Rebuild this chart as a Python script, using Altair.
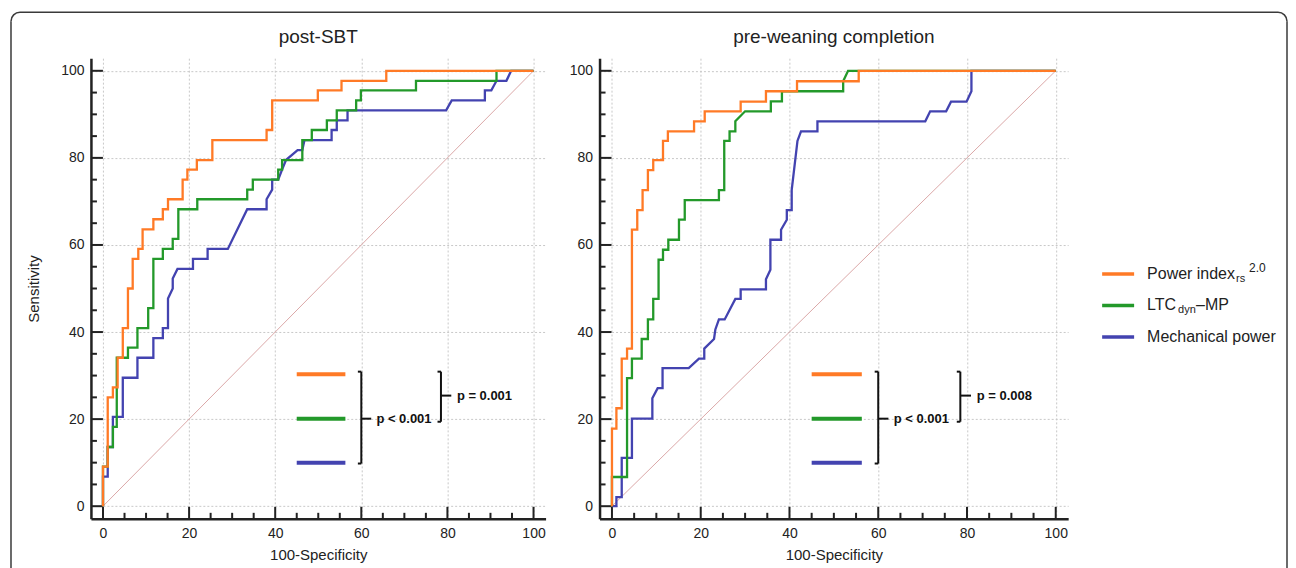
import math
import altair as alt
import pandas as pd

# ---------------- data (100-Specificity, Sensitivity) ----------------
# post-SBT
L_PI = [(0,0),(0,9.1),(1.1,9.1),(1.1,25),(2.3,25),(2.3,27.3),(3.4,27.3),(3.4,34.1),(4.6,34.1),(4.6,40.9),
        (5.8,40.9),(5.8,50),(6.9,50),(6.9,56.8),(8.2,56.8),(8.2,59.1),(9.2,59.1),(9.2,63.6),(11.7,63.6),
        (11.7,65.9),(13.9,65.9),(13.9,68.2),(15.1,68.2),(15.1,70.5),(18.5,70.5),(18.5,75),(19.6,75),
        (19.6,77.3),(21.8,77.3),(21.8,79.5),(25.4,79.5),(25.4,84.1),(38.0,84.1),(38.0,86.4),(39.3,86.4),
        (39.3,93.2),(49.9,93.2),(49.9,95.5),(55.4,95.5),(55.4,97.7),(65.8,97.7),(65.8,100),(100,100)]
L_LTC = [(0,0),(0,9.1),(1.1,9.1),(1.1,13.6),(2.3,13.6),(2.3,18.2),(3.2,18.2),(3.2,34.1),(5.8,34.1),
         (5.8,36.4),(8.0,36.4),(8.0,40.9),(10.5,40.9),(10.5,45.5),(11.7,45.5),(11.7,56.8),(13.9,56.8),
         (13.9,59.1),(16.2,59.1),(16.2,61.4),(17.5,61.4),(17.5,68.2),(21.9,68.2),(21.9,70.5),(33.5,70.5),
         (33.5,72.7),(34.8,72.7),(34.8,75),(40.7,75),(40.7,77.3),(41.6,77.3),(41.6,79.5),(46.3,79.5),
         (46.3,84.1),(48.5,84.1),(48.5,86.4),(52.0,86.4),(52.0,88.6),(54.3,88.6),(54.3,90.9),(58.8,90.9),
         (58.8,93.2),(59.9,93.2),(59.9,95.5),(72.7,95.5),(72.7,97.7),(91.4,97.7),(91.4,100),(100,100)]
L_MP = [(0,0),(0,6.8),(1.1,6.8),(1.1,13.6),(2.3,13.6),(2.3,20.5),(4.6,20.5),(4.6,29.5),(8.0,29.5),
        (8.0,34.1),(11.7,34.1),(11.7,38.6),(13.9,38.6),(13.9,40.9),(15.1,40.9),(15.1,47.7),(16.2,50),
        (16.2,52.3),(17.3,54.5),(20.9,54.5),(20.9,56.8),(24.3,56.8),(24.3,59.1),(29.0,59.1),(33.5,68.2),
        (38.0,68.2),(38.0,70.5),(39.3,72.7),(39.3,75),(40.7,75),(41.6,77.3),(42.5,79.5),(45.2,81.8),
        (46.3,81.8),(46.8,84.1),(53.1,84.1),(53.1,86.4),(54.3,86.4),(54.3,88.6),(56.8,88.6),(56.8,90.9),
        (79.7,90.9),(81.0,93.2),(88.7,93.2),(88.7,95.5),(90.2,95.5),(91.4,97.7),(93.7,97.7),(94.8,100),
        (100,100)]
# pre-weaning completion
R_PI = [(0,0),(0,17.8),(1.0,17.8),(1.0,22.5),(2.2,22.5),(2.2,33.9),(3.4,33.9),(3.4,36.2),(4.5,36.2),
        (4.5,63.5),(5.7,63.5),(5.7,68.0),(6.9,68.0),(6.9,72.6),(8.1,72.6),(8.1,77.2),(9.3,77.2),(9.3,79.5),
        (11.5,79.5),(11.5,83.9),(12.6,83.9),(12.6,86.1),(18.5,86.1),(18.5,88.4),(20.9,88.4),(20.9,90.7),
        (29.0,90.7),(29.0,92.9),(34.7,92.9),(34.7,95.3),(41.7,95.3),(41.7,97.6),(55.6,97.6),(55.6,100),
        (100,100)]
R_LTC = [(0,0),(0,6.7),(3.4,6.7),(3.4,29.4),(4.5,29.4),(4.5,33.9),(6.7,33.9),(6.7,38.4),(8.1,38.4),
         (8.1,42.9),(9.3,42.9),(9.3,47.6),(10.5,47.6),(10.5,56.6),(11.5,56.6),(11.5,58.9),(12.7,58.9),
         (12.7,61.2),(15.1,61.2),(15.1,65.8),(16.4,65.8),(16.4,70.3),(24.1,70.3),(24.1,72.6),(25.3,72.6),
         (25.3,83.9),(26.5,83.9),(26.5,86.1),(27.8,86.1),(27.8,88.4),(30.0,90.7),(35.8,90.7),(35.8,93.0),
         (38.3,93.0),(38.3,95.3),(52.1,95.3),(52.1,97.6),(53.2,100),(100,100)]
R_MP = [(0,0),(1.0,0),(1.0,2.1),(2.2,2.1),(2.2,11.1),(4.5,11.1),(4.5,20.1),(9.1,20.1),(9.1,24.8),
        (10.3,27.1),(11.4,27.1),(11.4,31.7),(17.3,31.7),(19.6,33.9),(20.8,33.9),(20.8,36.2),(23.0,38.4),
        (23.3,40.6),(24.1,42.9),(25.4,42.9),(27.8,47.6),(29.0,47.6),(29.0,49.8),(34.7,49.8),(34.7,52.1),
        (35.7,54.3),(35.7,61.2),(38.1,61.2),(38.1,63.5),(39.4,65.8),(39.4,68.0),(40.5,68.0),(40.5,72.6),
        (41.8,83.9),(42.6,86.1),(46.3,86.1),(46.3,88.4),(70.6,88.4),(71.7,90.7),(75.3,90.7),(76.4,92.9),
        (79.9,92.9),(81.0,95.3),(81.0,100),(100,100)]

DIAG_X = [0, 100]
DIAG_Y = [0, 100]
MAJOR = [0, 20, 40, 60, 80, 100]
MINOR = [5, 10, 15, 25, 30, 35, 45, 50, 55, 65, 70, 75, 85, 90, 95]
TITLES = ["post-SBT", "pre-weaning completion"]
P_SMALL = ["p = 0.001", "p = 0.008"]
P_BIG = "p < 0.001"

# ---------------- style ----------------
FONT = "Liberation Sans"
C_PI, C_LTC, C_MP = "#ff7a26", "#23992a", "#4343b0"
INK = "#222222"
H = 461
W_L, W_R = 455, 469
DOM_X = [-2.8, 102.8]
DOM_Y = [-2.9, 102.9]
ONE = pd.DataFrame({"a": [0]})


def curve_df(pts):
    return pd.DataFrame({"x": [p[0] for p in pts], "y": [p[1] for p in pts], "i": list(range(len(pts)))})


def panel(curves, width, title, ytitle, p_small, extra):
    xs = alt.Scale(domain=DOM_X, nice=False, zero=False)
    ys = alt.Scale(domain=DOM_Y, nice=False, zero=False)
    xax = alt.Axis(values=MAJOR, format="d", grid=True, ticks=False, title="100-Specificity",
                   labelPadding=8, titlePadding=7)
    yax = alt.Axis(values=MAJOR, format="d", grid=True, ticks=False, title=ytitle,
                   labelPadding=7, titlePadding=19)

    def X(f):
        return alt.X(f, type="quantitative", scale=xs, axis=xax)

    def Y(f):
        return alt.Y(f, type="quantitative", scale=ys, axis=yax)

    layers = []
    diag = pd.DataFrame({"x": DIAG_X, "y": DIAG_Y})
    layers.append(alt.Chart(diag).mark_line(color="#dba8a8", strokeWidth=1).encode(x=X("x"), y=Y("y")))

    # inward ticks
    maj = pd.DataFrame({"x": MAJOR, "y": MAJOR})
    mnr = pd.DataFrame({"x": MINOR, "y": MINOR})
    layers.append(alt.Chart(maj).mark_rule(color=INK, strokeWidth=2).encode(
        x=X("x"), y=alt.value(H), y2=alt.value(H - 12)))
    layers.append(alt.Chart(mnr).mark_rule(color=INK, strokeWidth=2).encode(
        x=X("x"), y=alt.value(H), y2=alt.value(H - 6)))
    layers.append(alt.Chart(maj).mark_rule(color=INK, strokeWidth=2).encode(
        y=Y("y"), x=alt.value(0), x2=alt.value(12)))
    layers.append(alt.Chart(mnr).mark_rule(color=INK, strokeWidth=2).encode(
        y=Y("y"), x=alt.value(0), x2=alt.value(6)))

    # ROC curves (blue, green, orange on top)
    for pts, col in curves:
        layers.append(alt.Chart(curve_df(pts)).mark_line(color=col, strokeWidth=2.3).encode(
            x=X("x"), y=Y("y"), order=alt.Order("i:Q")))

    # comparison annotation
    seg = pd.DataFrame({"x": [45, 45, 45], "x2": [56.3, 56.3, 56.3], "y": [30.3, 20.1, 10.0],
                        "c": ["pi", "ltc", "mp"]})
    layers.append(alt.Chart(seg).mark_rule(strokeWidth=4).encode(
        x=X("x"), x2=alt.X2("x2"), y=Y("y"),
        color=alt.Color("c:N", scale=alt.Scale(domain=["pi", "ltc", "mp"], range=[C_PI, C_LTC, C_MP]),
                        legend=None)))
    br = pd.DataFrame({
        "x":  [60, 59.2, 59.2, 60, 78.5, 77.7, 77.7, 78.5],
        "x2": [60, 60, 60, 62.3, 78.5, 78.5, 78.5, 80.9],
        "y":  [9.8, 30.9, 9.8, 20.1, 19.4, 30.9, 19.4, 25.4],
        "y2": [30.9, 30.9, 9.8, 20.1, 30.9, 30.9, 19.4, 25.4]})
    layers.append(alt.Chart(br).mark_rule(color="#111", strokeWidth=2).encode(
        x=X("x"), x2=alt.X2("x2"), y=Y("y"), y2=alt.Y2("y2")))
    ptxt = pd.DataFrame({"x": [63.5, 82.2], "y": [20.1, 25.4], "t": [P_BIG, p_small]})
    layers.append(alt.Chart(ptxt).mark_text(align="left", baseline="middle", font=FONT, fontSize=13,
                                            fontWeight="bold", color="#111").encode(
        x=X("x"), y=Y("y"), text="t:N"))

    # panel title
    layers.append(alt.Chart(ONE).mark_text(text=title, align="center", baseline="alphabetic", font=FONT,
                                           fontSize=19, color=INK).encode(
        x=alt.value(width / 2), y=alt.value(-15)))
    layers += extra
    return alt.layer(*layers).properties(width=width, height=H)


# border of the figure (drawn from the left panel, pixel offsets)
BL, BR, BT, BB, RAD = -80, 1197, -46, 511, 9
BC = "#3a3a3a"
border = [
    alt.Chart(ONE).mark_rule(color=BC, strokeWidth=1.5).encode(x=alt.value(BL), y=alt.value(BT + RAD), y2=alt.value(BB)),
    alt.Chart(ONE).mark_rule(color=BC, strokeWidth=1.5).encode(x=alt.value(BR), y=alt.value(BT + RAD), y2=alt.value(BB)),
    alt.Chart(ONE).mark_rule(color=BC, strokeWidth=1.5).encode(x=alt.value(BL + RAD), x2=alt.value(BR - RAD), y=alt.value(BT)),
    alt.Chart(ONE).mark_arc(color=BC, radius=RAD + 0.75, radius2=RAD - 0.75, theta=3 * math.pi / 2,
                            theta2=2 * math.pi).encode(x=alt.value(BL + RAD), y=alt.value(BT + RAD)),
    alt.Chart(ONE).mark_arc(color=BC, radius=RAD + 0.75, radius2=RAD - 0.75, theta=0,
                            theta2=math.pi / 2).encode(x=alt.value(BR - RAD), y=alt.value(BT + RAD)),
]

# legend (drawn from the right panel, pixel offsets)
LX = W_R + 34
ROWS = [216, 247.5, 279]


def legend_row(py, color, parts):
    out = [alt.Chart(ONE).mark_rule(color=color, strokeWidth=3.5).encode(
        x=alt.value(LX), x2=alt.value(LX + 32), y=alt.value(py))]
    for txt, dx, dy, size in parts:
        out.append(alt.Chart(ONE).mark_text(text=txt, align="left", baseline="middle", dy=dy, font=FONT,
                                            fontSize=size, color=INK).encode(
            x=alt.value(LX + dx), y=alt.value(py)))
    return out


legend = (legend_row(ROWS[0], C_PI, [("Power index", 45, 0, 16), ("rs", 134, 5, 11), ("2.0", 147, -6, 12)])
          + legend_row(ROWS[1], C_LTC, [("LTC", 45, 0, 16), ("dyn", 76, 5, 11), ("–MP", 94, 0, 16)])
          + legend_row(ROWS[2], C_MP, [("Mechanical power", 45, 0, 16)]))

left = panel([(L_MP, C_MP), (L_LTC, C_LTC), (L_PI, C_PI)], W_L, TITLES[0], "Sensitivity", P_SMALL[0], border)
right = panel([(R_MP, C_MP), (R_LTC, C_LTC), (R_PI, C_PI)], W_R, TITLES[1], None, P_SMALL[1], legend)

chart = alt.hconcat(left, right, spacing=54, bounds="flush").properties(
    padding={"left": 2, "top": 3, "right": 0, "bottom": 0}
).configure(background="white").configure_view(stroke=None).configure_axis(
    domainColor=INK, domainWidth=2.5, labelFont=FONT, labelFontSize=14, labelColor=INK,
    titleFont=FONT, titleFontSize=15, titleFontWeight="normal", titleColor=INK,
    gridColor="#c8c8c8", gridDash=[2, 2], gridWidth=1
)

chart.save("out.html", embed_options={"renderer": "svg", "actions": False})
